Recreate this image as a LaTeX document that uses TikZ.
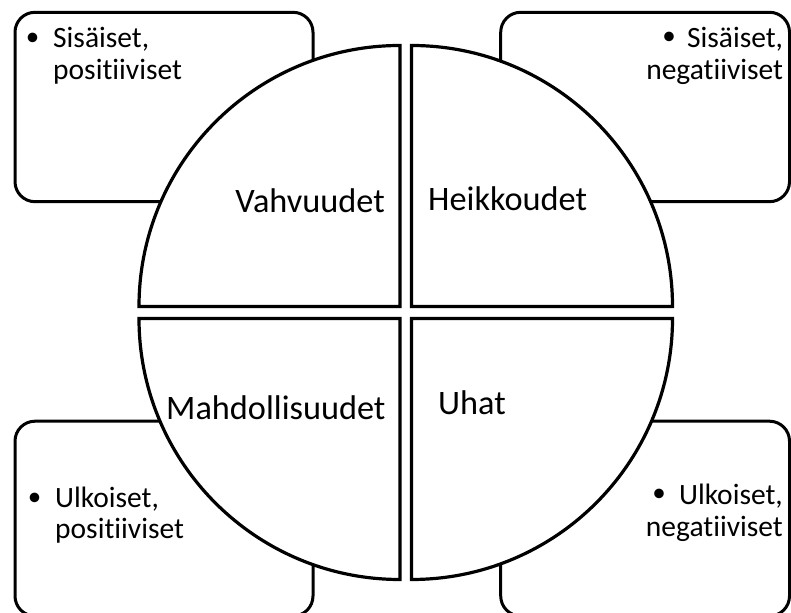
\documentclass[tikz,border=0pt]{standalone}
\usepackage{fontspec}
\setmainfont{Carlito}[Ligatures={NoCommon,NoContextual}]
\begin{document}
\begin{tikzpicture}[x=1pt,y=1pt,
  cornerbox/.style={draw=black, line width=3pt, rounded corners=20pt, fill=white},
  quarter/.style={draw=black, line width=3.2pt, fill=white, line join=miter},
  title/.style={inner sep=0pt, font=\fontsize{34.3}{40}\selectfont},
  item/.style={inner sep=0pt, font=\fontsize{29.5}{32}\selectfont},
  dot/.style={inner sep=0pt, anchor=center, font=\fontsize{27}{32}\selectfont}]
\clip (0,0) rectangle (791,612);
\fill[white] (0,0) rectangle (791,612);

% four corner boxes
\draw[cornerbox] (15,410.3) rectangle (313,599.7);
\draw[cornerbox] (500.7,410.3) rectangle (789.5,599.7);
\draw[cornerbox] (15,-4) rectangle (313,190.8);
\draw[cornerbox] (500.7,-4) rectangle (789.5,190.8);

% the split disc
\draw[quarter] (400,305.5) -- ++(-261,0) arc[start angle=180, end angle=90, radius=261] -- cycle;
\draw[quarter] (411.5,305.5) -- ++(0,261) arc[start angle=90, end angle=0, radius=261] -- cycle;
\draw[quarter] (400,293.5) -- ++(-261,0) arc[start angle=180, end angle=270, radius=261] -- cycle;
\draw[quarter] (411.5,293.5) -- ++(261,0) arc[start angle=0, end angle=-90, radius=261] -- cycle;

% quarter titles
\node[title, anchor=base east] (vahv) at (385,399) {Vahvuudet};
\node[title, anchor=base west] (heik) at (428,401) {Heikkoudet};
\node[title, anchor=base west] (mahd) at (166,192.7) {Mahdollisuudet};
\node[title, anchor=base west] (uhat) at (438,197) {Uhat};

% top left box
\node[dot] (tlb) at (32.7,573) {•};
\node[item, anchor=base west] (tl1) at (53,564) {Sisäiset,};
\node[item, anchor=base west] (tl2) at (53,532) {positiiviset};

% top right box
\node[dot] (trb) at (669,574) {•};
\node[item, anchor=base east] (tr1) at (783.3,564.7) {Sisäiset,};
\node[item, anchor=base east] (tr2) at (783.3,532.7) {negatiiviset};

% bottom left box
\node[dot] (blb) at (34.7,113) {•};
\node[item, anchor=base west] (bl1) at (55,104.7) {Ulkoiset,};
\node[item, anchor=base west] (bl2) at (55,73.7) {positiiviset};

% bottom right box
\node[dot] (brb) at (659,117) {•};
\node[item, anchor=base east] (br1) at (783,107) {Ulkoiset,};
\node[item, anchor=base east] (br2) at (783,75.3) {negatiiviset};
\end{tikzpicture}
\end{document}
